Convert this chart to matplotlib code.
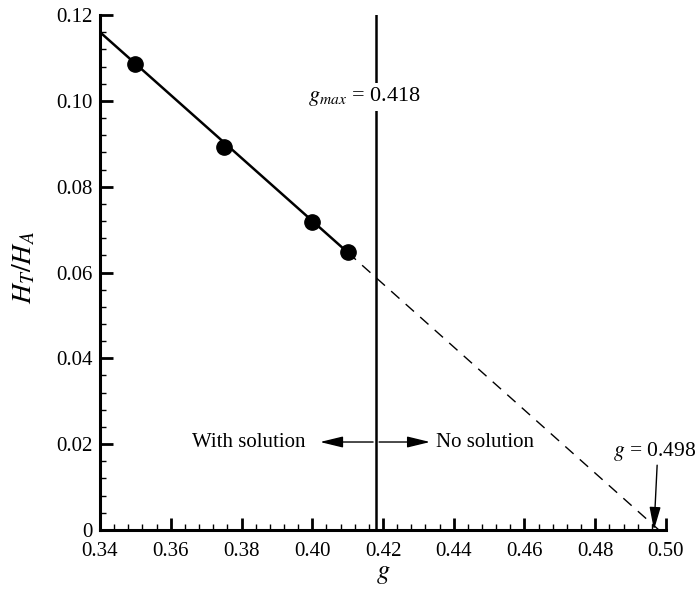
import matplotlib
matplotlib.use('Agg')
import matplotlib.pyplot as plt
from matplotlib.ticker import MultipleLocator, FuncFormatter

plt.rcParams['font.family'] = ['Liberation Serif', 'DejaVu Serif']
plt.rcParams['mathtext.fontset'] = 'stix'

# data
g_pts = [0.35, 0.375, 0.40, 0.41]
h_pts = [0.1087, 0.0893, 0.0718, 0.0647]
g_fit = [0.34, 0.41]
h_fit = [0.1160, 0.0647]
g_ext = [0.41, 0.498]
h_ext = [0.0647, 0.0]
g_max = 0.418
g_zero = 0.498

fig = plt.figure(figsize=(6.97, 5.89), dpi=100)
ax = fig.add_axes([0.1435, 0.1002, 0.812, 0.8743])

ax.plot(g_fit, h_fit, color='black', lw=1.8)
ax.plot(g_ext, h_ext, color='black', lw=1.0, dashes=(8, 6))
ax.plot(g_pts, h_pts, 'o', color='black', ms=11)
ax.axvline(g_max, color='black', lw=1.8)

ax.text(0.4148, 0.1009, r'$g_{max}$ = 0.418', ha='center', va='center', fontsize=16,
        bbox=dict(fc='white', ec='none', pad=2))

# with / no solution arrows
arr = dict(arrowstyle='-|>,head_length=1.4,head_width=0.34', color='black', lw=1.0,
           shrinkA=0, shrinkB=0)
ax.annotate('', xy=(0.4022, 0.0205), xytext=(0.4172, 0.0205), arrowprops=arr)
ax.annotate('', xy=(0.4333, 0.0205), xytext=(0.4189, 0.0205), arrowprops=arr)
ax.text(0.398, 0.0205, 'With solution', ha='right', va='center', fontsize=15)
ax.text(0.435, 0.0205, 'No solution', ha='left', va='center', fontsize=15)

ax.annotate('', xy=(0.4966, 0.0), xytext=(0.4975, 0.0151), arrowprops=arr)
ax.text(0.5085, 0.0182, r'$g$ = 0.498', ha='right', va='center', fontsize=15.5)

ax.set_xlim(0.34, 0.50)
ax.set_ylim(0, 0.12)
ax.xaxis.set_major_locator(MultipleLocator(0.02))
ax.xaxis.set_minor_locator(MultipleLocator(0.004))
ax.yaxis.set_major_locator(MultipleLocator(0.02))
ax.yaxis.set_minor_locator(MultipleLocator(0.004))
ax.xaxis.set_major_formatter(FuncFormatter(lambda v, p: '%.2f' % v))
ax.yaxis.set_major_formatter(FuncFormatter(lambda v, p: '0' if abs(v) < 1e-9 else '%.2f' % v))

for s in ['top', 'right']:
    ax.spines[s].set_visible(False)
for s in ['left', 'bottom']:
    ax.spines[s].set_linewidth(2.2)
ax.tick_params(which='major', direction='in', length=9, width=2.0, labelsize=15, pad=5)
ax.tick_params(axis='x', which='major', pad=9)
ax.tick_params(which='minor', direction='in', length=4.5, width=1.0)

ax.set_xlabel(r'$g$', fontsize=19, labelpad=2)
ax.set_ylabel(r'$H_T/H_A$', fontsize=20)
ax.yaxis.set_label_coords(-0.11, 0.51)

fig.savefig('out.png', dpi=100)
